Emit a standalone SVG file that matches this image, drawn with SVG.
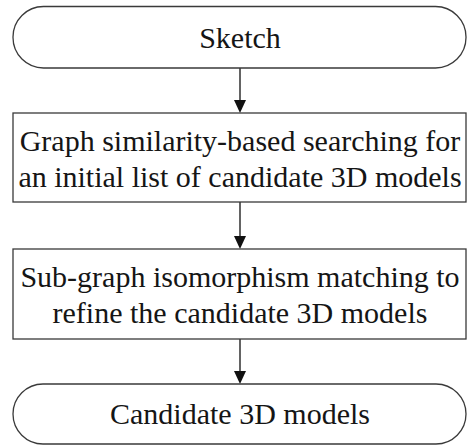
<svg xmlns="http://www.w3.org/2000/svg" width="469" height="446" viewBox="0 0 469 446">
<defs>
<style>
.shape{fill:#fff;stroke:#3a3a3a;stroke-width:1.3}
.lbl{font-family:"Liberation Serif","Times New Roman",serif;font-size:30px;fill:#151515;text-anchor:middle}
.conn{stroke:#222;stroke-width:1.4;fill:none}
.head{fill:#111;stroke:none}
</style>
</defs>
<rect width="469" height="446" fill="#fff"/>
<g id="connectors">
<line class="conn" x1="240" y1="68" x2="240" y2="102"/>
<polygon class="head" points="234,100 246,100 240,113"/>
<line class="conn" x1="240" y1="202" x2="240" y2="238"/>
<polygon class="head" points="234,236 246,236 240,249"/>
<line class="conn" x1="240" y1="339" x2="240" y2="373"/>
<polygon class="head" points="234,371 246,371 240,384"/>
</g>
<g id="sketch">
<rect class="shape" x="13" y="6.5" width="453" height="61.5" rx="30.5" ry="30.5"/>
<text class="lbl" x="240" y="48">Sketch</text>
</g>
<g id="graph-search">
<rect class="shape" x="13" y="113" width="453" height="89"/>
<text class="lbl" x="240" y="151">Graph similarity-based searching for</text>
<text class="lbl" x="240" y="187">an initial list of candidate 3D models</text>
</g>
<g id="subgraph-match">
<rect class="shape" x="13" y="249" width="453" height="90"/>
<text class="lbl" x="240" y="287">Sub-graph isomorphism matching to</text>
<text class="lbl" x="240" y="323">refine the candidate 3D models</text>
</g>
<g id="candidates">
<rect class="shape" x="13" y="384" width="453" height="60" rx="30" ry="30"/>
<text class="lbl" x="240" y="424">Candidate 3D models</text>
</g>
</svg>
